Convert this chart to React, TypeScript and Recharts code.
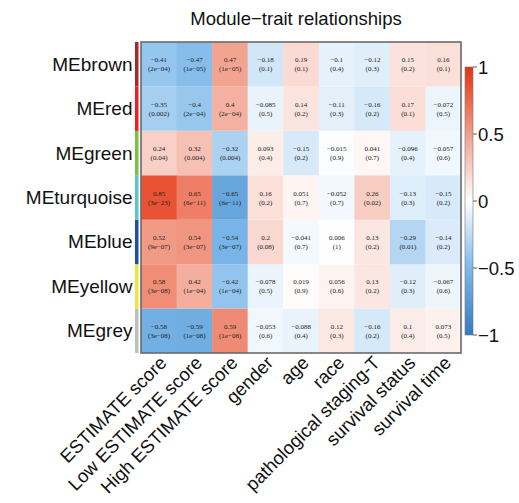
import React from 'react';
import { BarChart, Bar, XAxis, YAxis, Cell, LabelList } from 'recharts';

const modules = ['MEbrown', 'MEred', 'MEgreen', 'MEturquoise', 'MEblue', 'MEyellow', 'MEgrey'];
const moduleColors = ['#a52a2a', '#ee1c25', '#7dc243', '#5ec6c2', '#1f4fa5', '#ede63b', '#bebebe'];
const traits = [
    'ESTIMATE score', 'Low ESTIMATE score', 'High ESTIMATE score', 'gender', 'age', 'race',
    'pathological staging-T', 'survival status', 'survival time',
];

// correlation per module row
const corr = [
    [-0.41, -0.47, 0.47, -0.18, 0.19, -0.1, -0.12, 0.15, 0.16],
    [-0.35, -0.4, 0.4, -0.085, 0.14, -0.11, -0.16, 0.17, -0.072],
    [0.24, 0.32, -0.32, 0.093, -0.15, -0.015, 0.041, -0.096, -0.057],
    [0.85, 0.65, -0.65, 0.16, 0.051, -0.052, 0.26, -0.13, -0.15],
    [0.52, 0.54, -0.54, 0.2, -0.041, 0.006, 0.13, -0.29, -0.14],
    [0.58, 0.42, -0.42, -0.078, 0.019, 0.056, 0.13, -0.12, -0.067],
    [-0.58, -0.59, 0.59, -0.053, -0.088, 0.12, -0.16, 0.1, 0.073],
];

// p-values as printed
const pvals = [
    ['2e-04', '1e-05', '1e-05', '0.1', '0.1', '0.4', '0.3', '0.2', '0.1'],
    ['0.002', '2e-04', '2e-04', '0.5', '0.2', '0.3', '0.2', '0.1', '0.5'],
    ['0.04', '0.004', '0.004', '0.4', '0.2', '0.9', '0.7', '0.4', '0.6'],
    ['3e-23', '6e-11', '6e-11', '0.2', '0.7', '0.7', '0.02', '0.3', '0.2'],
    ['9e-07', '3e-07', '3e-07', '0.08', '0.7', '1', '0.2', '0.01', '0.2'],
    ['3e-08', '1e-04', '1e-04', '0.5', '0.9', '0.6', '0.2', '0.3', '0.6'],
    ['3e-08', '1e-08', '1e-08', '0.6', '0.4', '0.3', '0.2', '0.4', '0.5'],
];

const legendTicks = [1, 0.5, 0, -0.5, -1];

const W = 519;
const H = 503;
const PLOT_TOP = 42;
const PLOT_LEFT = 141;
const PLOT_W = 320;
const PLOT_H = 311;
const ROW_H = PLOT_H / modules.length;

const SANS = '"Liberation Sans", Arial, sans-serif';
const SERIF = '"Liberation Serif", "Times New Roman", serif';

const lerp = (a: number[], b: number[], t: number) =>
    `rgb(${a.map((v, i) => Math.round(v + (b[i] - v) * t)).join(',')})`;

const WHITE = [255, 255, 255];
const RED_MID = [241, 158, 138];
const RED_END = [230, 50, 15];
const BLUE_MID = [126, 185, 234];
const BLUE_END = [50, 122, 192];

const colorFor = (v: number) => {
    if (v >= 0) {
        return v <= 0.5 ? lerp(WHITE, RED_MID, v / 0.5) : lerp(RED_MID, RED_END, (v - 0.5) / 0.5);
    }
    const a = -v;
    return a <= 0.5 ? lerp(WHITE, BLUE_MID, a / 0.5) : lerp(BLUE_MID, BLUE_END, (a - 0.5) / 0.5);
};

const fmt = (s: string | number) => String(s).replace('-', '\u2212');

const data = traits.map((name) => {
    const row: Record<string, any> = { name };
    modules.forEach((_, i) => { row[`r${i}`] = 1; });
    return row;
});

const XTick = (props: any) => {
    const { x, y, payload } = props;
    return (
        <g transform={`translate(${x + 9},${y + 11})`}>
            <text transform="rotate(-45)" textAnchor="end" fontSize={18.5} fontFamily={SANS} fill="#111">
                {payload.value}
            </text>
        </g>
    );
};

const YTick = (props: any) => {
    const { x, y, payload } = props;
    const idx = modules.length - 1 - Math.round(payload.value - 0.5);
    return (
        <g>
            <rect x={x - 6} y={y - ROW_H / 2} width={3.5} height={ROW_H} fill={moduleColors[idx]} />
            <text x={x - 8.5} y={y} dy={6.5} textAnchor="end" fontSize={19} fontFamily={SANS} fill="#111">
                {modules[idx]}
            </text>
        </g>
    );
};

const cellLabel = (row: number) => (props: any) => {
    const { x, y, width, height, index } = props;
    const cx = x + width / 2;
    const cy = y + height / 2;
    return (
        <g>
            <text x={cx} y={cy - 2} textAnchor="middle" fontSize={7} fontFamily={SERIF} fill="#222">
                {fmt(corr[row][index])}
            </text>
            <text x={cx} y={cy + 7} textAnchor="middle" fontSize={7} fontFamily={SERIF} fill="#222">
                ({fmt(pvals[row][index])})
            </text>
        </g>
    );
};

const rowsBottomUp = modules.map((_, i) => modules.length - 1 - i);

const legY = (v: number) => 201 - v * 134;

export default function App() {
    return (
        <div style={{ position: 'absolute', left: 0, top: 0, width: W, height: H, background: '#fff' }}>
            <BarChart
                width={W}
                height={H}
                data={data}
                barCategoryGap={0}
                barGap={0}
                margin={{ top: PLOT_TOP, right: W - PLOT_LEFT - PLOT_W, left: 0, bottom: 10 }}
            >
                <XAxis
                    dataKey="name"
                    interval={0}
                    height={H - PLOT_TOP - PLOT_H - 10}
                    tick={<XTick />}
                    tickSize={0}
                    tickMargin={0}
                    axisLine={false}
                    tickLine={false}
                />
                <YAxis
                    type="number"
                    domain={[0, modules.length]}
                    ticks={modules.map((_, i) => i + 0.5)}
                    interval={0}
                    width={PLOT_LEFT}
                    tick={<YTick />}
                    tickSize={0}
                    tickMargin={0}
                    axisLine={false}
                    tickLine={false}
                />
                {rowsBottomUp.map((r) => (
                    <Bar key={r} dataKey={`r${r}`} stackId="a" isAnimationActive={false}>
                        {traits.map((_, c) => (
                            <Cell key={c} fill={colorFor(corr[r][c])} />
                        ))}
                        <LabelList dataKey={`r${r}`} content={cellLabel(r)} />
                    </Bar>
                ))}
            </BarChart>
            <svg width={W} height={H} style={{ position: 'absolute', left: 0, top: 0, pointerEvents: 'none' }}>
                <defs>
                    <linearGradient id="leg" x1="0" y1="0" x2="0" y2="1">
                        <stop offset="0%" stopColor={colorFor(1)} />
                        <stop offset="25%" stopColor={colorFor(0.5)} />
                        <stop offset="50%" stopColor="#ffffff" />
                        <stop offset="75%" stopColor={colorFor(-0.5)} />
                        <stop offset="100%" stopColor={colorFor(-1)} />
                    </linearGradient>
                </defs>
                <text x={296} y={25} textAnchor="middle" fontSize={18.5} fontFamily={SANS} fill="#111">
                    Module{'\u2212'}trait relationships
                </text>
                <rect x={PLOT_LEFT} y={PLOT_TOP} width={PLOT_W} height={PLOT_H} fill="none" stroke="#6a6a6a" strokeWidth={1.6} />
                <rect x={465} y={legY(1)} width={8} height={legY(-1) - legY(1)} fill="url(#leg)" stroke="#777" strokeWidth={0.6} />
                {legendTicks.map((t) => (
                    <g key={t}>
                        <line x1={473} x2={477} y1={legY(t)} y2={legY(t)} stroke="#333" strokeWidth={0.8} />
                        <text x={478} y={legY(t)} dy={6.5} fontSize={18.5} fontFamily={SANS} fill="#111">
                            {fmt(t)}
                        </text>
                    </g>
                ))}
            </svg>
        </div>
    );
}
